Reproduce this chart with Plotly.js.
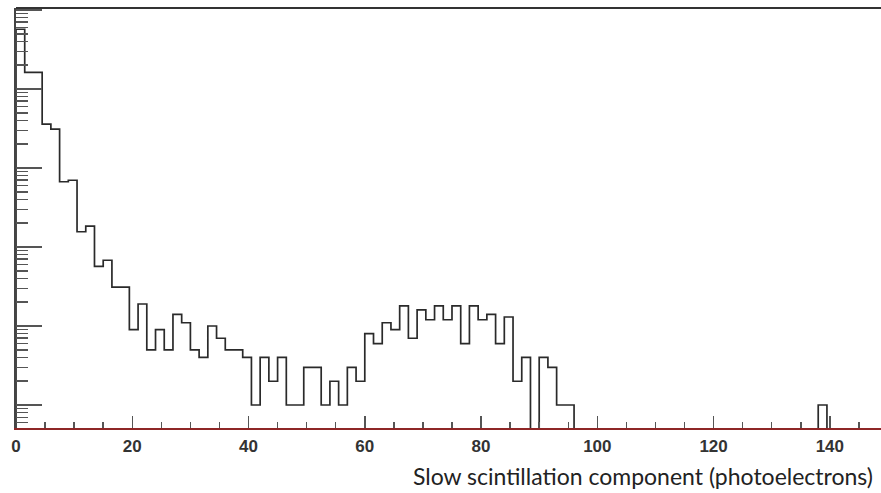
<!DOCTYPE html>
<html>
<head>
<meta charset="utf-8">
<script src="https://cdn.plot.ly/plotly-3.0.1.min.js"></script>
<style>
  html, body { margin: 0; padding: 0; background: #ffffff; }
  #chart { width: 881px; height: 493px; }
</style>
</head>
<body>
<div id="chart"></div>
<script>
// Histogram: slow scintillation component, 1.5 photoelectron bins starting at 0
const binStart = 0;
const binWidth = 1.5;
const counts = [
  57000, 16200, 16200, 3600, 3100, 670, 700, 156, 184, 57,
  68, 31, 31, 9, 19, 5, 9, 5, 14, 11,
  5, 4, 10, 7, 5, 5, 4, 1, 4, 2,
  4, 1, 1, 3, 3, 1, 2, 1, 3, 2,
  8, 6, 11, 9, 18, 7, 16, 12, 18, 12,
  18, 6, 18, 12, 14, 6, 13, 2, 4, 0,
  4, 3, 1, 1, 0, 0, 0, 0, 0, 0,
  0, 0, 0, 0, 0, 0, 0, 0, 0, 0,
  0, 0, 0, 0, 0, 0, 0, 0, 0, 0,
  0, 0, 1, 0, 0, 0, 0, 0, 0, 0
];
const xTickVals = [0, 20, 40, 60, 80, 100, 120, 140];
const xTickText = ["0", "20", "40", "60", "80", "100", "120", "140"];
const xTitle = "Slow scintillation component (photoelectrons)";

// empty bins are drawn down to (below) the bottom of the log axis, as ROOT does
const emptyLevel = 1e-3;
const xs = [binStart];
const ys = [emptyLevel];
counts.forEach((c, i) => {
  xs.push(binStart + i * binWidth);
  ys.push(c > 0 ? c : emptyLevel);
});
xs.push(binStart + counts.length * binWidth);
ys.push(counts[counts.length - 1] > 0 ? counts[counts.length - 1] : emptyLevel);

const trace = {
  type: 'scatter',
  mode: 'lines',
  x: xs,
  y: ys,
  line: { shape: 'hv', color: '#2a2a2a', width: 1.7 },
  hoverinfo: 'skip'
};

const layout = {
  width: 881,
  height: 493,
  margin: { l: 16, r: 0, t: 8, b: 65 },
  paper_bgcolor: '#ffffff',
  plot_bgcolor: '#ffffff',
  showlegend: false,
  xaxis: {
    range: [0, 148.8],
    showgrid: false,
    zeroline: false,
    showline: true,
    linecolor: '#8e2626',
    linewidth: 2,
    ticks: 'inside',
    ticklen: 12,
    tickwidth: 1.5,
    tickcolor: '#555555',
    tickvals: xTickVals,
    ticktext: xTickText,
    tickfont: { family: 'Liberation Sans, Arial, sans-serif', size: 17, color: '#333333', weight: 'bold' },
    ticklabelstandoff: 2,
    minor: { dtick: 5, ticks: 'inside', ticklen: 6, tickwidth: 1.5, tickcolor: '#555555', showgrid: false },
    layer: 'above traces'
  },
  yaxis: {
    type: 'log',
    range: [-0.291, 5.025],
    showgrid: false,
    zeroline: false,
    showline: true,
    linecolor: '#444444',
    linewidth: 2,
    ticks: 'inside',
    ticklen: 26,
    tickwidth: 1.5,
    tickcolor: '#555555',
    dtick: 1,
    showticklabels: false,
    minor: { dtick: 'D1', ticks: 'inside', ticklen: 12, tickwidth: 1.5, tickcolor: '#555555', showgrid: false }
  },
  shapes: [
    { type: 'line', xref: 'paper', yref: 'paper', x0: 0, x1: 1, y0: 1, y1: 1,
      line: { color: '#333333', width: 2 } }
  ],
  annotations: [
    { text: xTitle, xref: 'paper', yref: 'paper', x: 0.9935, y: -0.114,
      xanchor: 'right', yanchor: 'middle', showarrow: false,
      font: { family: 'Lato, Open Sans, sans-serif', size: 23, color: '#222222' } }
  ]
};

Plotly.newPlot('chart', [trace], layout, { staticPlot: true, displayModeBar: false });
</script>
</body>
</html>
